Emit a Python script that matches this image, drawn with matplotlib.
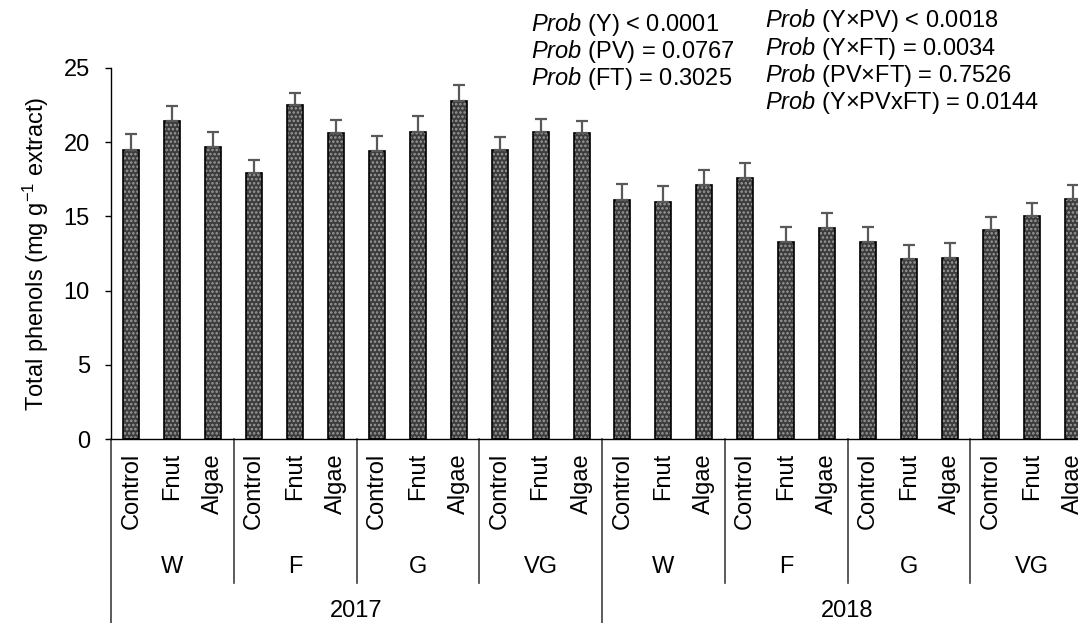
import numpy as np
import matplotlib
matplotlib.use("Agg")
import matplotlib.pyplot as plt
from matplotlib.lines import Line2D
import matplotlib.transforms as mtransforms

plt.rcParams['font.family'] = ['Liberation Sans', 'DejaVu Sans']
plt.rcParams['mathtext.fontset'] = 'custom'
plt.rcParams['mathtext.rm'] = 'Liberation Sans'
plt.rcParams['mathtext.it'] = 'Liberation Sans:italic'
plt.rcParams['hatch.linewidth'] = 1.2

# Data: total phenols by year, plant vigour class and fertiliser treatment
years = ['2017', '2018']
vigour = ['W', 'F', 'G', 'VG']
treatments = ['Control', 'Fnut', 'Algae']

phenols_2017 = [19.5, 21.4, 19.7, 17.9, 22.5, 20.6, 19.4, 20.7, 22.8, 19.5, 20.7, 20.6]
phenols_2018 = [16.1, 16.0, 17.1, 17.6, 13.3, 14.2, 13.3, 12.1, 12.2, 14.1, 15.0, 16.2]
err_2017 = [1.03, 1.04, 1.0, 0.88, 0.81, 0.88, 1.05, 1.04, 1.05, 0.86, 0.87, 0.83]
err_2018 = [1.06, 1.04, 1.0, 1.03, 1.0, 1.0, 1.0, 1.0, 1.0, 0.88, 0.9, 0.9]

yticks = [0, 5, 10, 15, 20, 25]

prob_left = [r'$\mathit{Prob}$ (Y) < 0.0001',
             r'$\mathit{Prob}$ (PV) = 0.0767',
             r'$\mathit{Prob}$ (FT) = 0.3025']
prob_right = [r'$\mathit{Prob}$ (Y×PV) < 0.0018',
              r'$\mathit{Prob}$ (Y×FT) = 0.0034',
              r'$\mathit{Prob}$ (PV×FT) = 0.7526',
              r'$\mathit{Prob}$ (Y×PVxFT) = 0.0144']

values = np.array(phenols_2017 + phenols_2018)
errors = np.array(err_2017 + err_2018)
n = len(values)
x = np.arange(n)

W, H = 1078, 623
fig = plt.figure(figsize=(W / 100, H / 100), dpi=100)
ax_left, ax_right, ax_bottom, ax_top = 111, 1093, 439, 68
ax = fig.add_axes([ax_left / W, 1 - ax_bottom / H,
                   (ax_right - ax_left) / W, (ax_bottom - ax_top) / H])

fs = 17
bw = 0.39
# patterned fill
ax.bar(x, values, width=bw, color='#3c3c3c', hatch='....',
       edgecolor='#9c9c9c', linewidth=0, zorder=2)
# outline
ax.bar(x, values, width=bw, fill=False, edgecolor='black', linewidth=1.2, zorder=3)
ax.errorbar(x, values, yerr=[np.zeros(n), errors], fmt='none',
            ecolor='#595959', elinewidth=1.6, capsize=4.2, capthick=1.6, zorder=4)

ax.set_xlim(-0.5, n - 0.5)
ax.set_ylim(0, 25)
ax.set_yticks(yticks)
ax.tick_params(axis='y', direction='out', length=4.3, width=1, pad=11, labelsize=fs)
ax.tick_params(axis='x', length=0, labelbottom=False)
for s in ['top', 'right']:
    ax.spines[s].set_visible(False)
for s in ['left', 'bottom']:
    ax.spines[s].set_color('black')
    ax.spines[s].set_linewidth(1)

ax.set_ylabel(r'Total phenols (mg g$^{\mathregular{-1}}$ extract)', fontsize=fs, labelpad=9)

trans = mtransforms.blended_transform_factory(ax.transData, ax.transAxes)
axh = ax_bottom - ax_top

def frac(py):
    return (ax_bottom - py) / axh

# category labels
for i in range(n):
    ax.text(x[i], frac(453), treatments[i % 3], rotation=90, ha='center', va='top',
            fontsize=fs, transform=trans)

# vigour group labels and separators
ng = len(vigour)
for k in range(len(years) * ng):
    ax.text(3 * k + 1, frac(567), vigour[k % ng], ha='center', va='center',
            fontsize=fs, transform=trans)
for k in range(1, len(years) * ng + 1):
    if k % ng == 0:
        continue
    xb = 3 * k - 0.5
    ax.add_line(Line2D([xb, xb], [0, frac(583)], transform=trans, color='#404040',
                       linewidth=1.2, clip_on=False))

# year labels and separators
for j, yr in enumerate(years):
    ax.text(12 * j + 5.5, frac(611), yr, ha='center', va='center', fontsize=fs,
            transform=trans)
for xb in [-0.5, 11.5, 23.5]:
    ax.add_line(Line2D([xb, xb], [0, frac(640)], transform=trans, color='#404040',
                       linewidth=1.2, clip_on=False))

# significance annotations
for i, s in enumerate(prob_left):
    fig.text(531 / W, 1 - (24 + 27.3 * i) / H, s, fontsize=fs, ha='left', va='center')
for i, s in enumerate(prob_right):
    fig.text(765 / W, 1 - (21 + 27.3 * i) / H, s, fontsize=fs, ha='left', va='center')

fig.savefig('out.png', dpi=100)
